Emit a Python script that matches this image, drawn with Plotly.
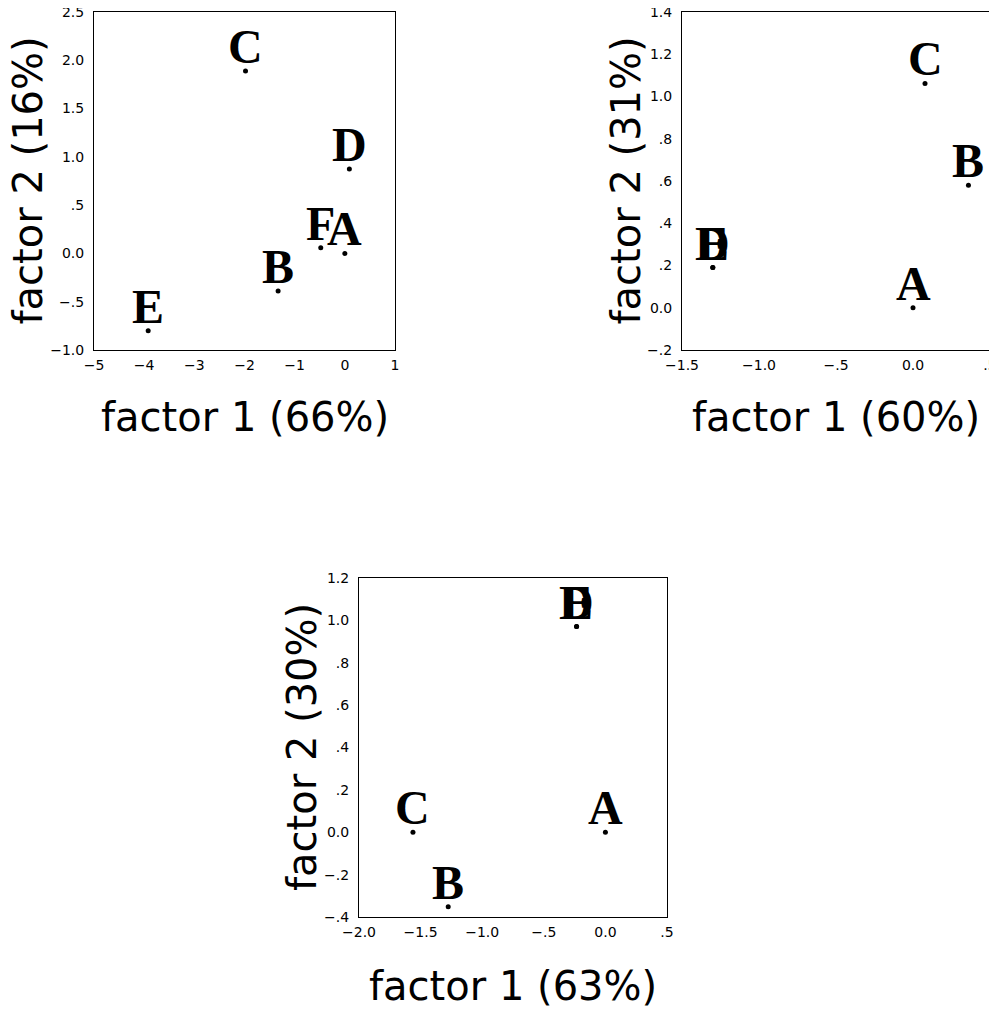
import plotly.graph_objects as go

# ---------------- data ----------------
# Panel 1
p1_labels = ["A", "B", "C", "D", "E", "F"]
p1_x = [0.0, -1.33, -1.98, 0.09, -3.92, -0.48]
p1_y = [0.0, -0.39, 1.89, 0.875, -0.80, 0.06]
p1_xtitle = "factor 1 (66%)"
p1_ytitle = "factor 2 (16%)"
p1_xticks = [-5, -4, -3, -2, -1, 0, 1]
p1_xticktext = ["\u22125", "\u22124", "\u22123", "\u22122", "\u22121", "0", "1"]
p1_yticks = [2.5, 2.0, 1.5, 1.0, 0.5, 0.0, -0.5, -1.0]
p1_yticktext = ["2.5", "2.0", "1.5", "1.0", ".5", "0.0", "\u2212.5", "\u22121.0"]

# Panel 2
p2_labels = ["A", "B", "C", "D", "E"]
p2_x = [0.0, 0.36, 0.078, -1.30, -1.30]
p2_y = [0.0, 0.58, 1.062, 0.19, 0.19]
p2_xtitle = "factor 1 (60%)"
p2_ytitle = "factor 2 (31%)"
p2_xticks = [-1.5, -1.0, -0.5, 0.0, 0.5]
p2_xticktext = ["\u22121.5", "\u22121.0", "\u2212.5", "0.0", ".5"]
p2_yticks = [1.4, 1.2, 1.0, 0.8, 0.6, 0.4, 0.2, 0.0, -0.2]
p2_yticktext = ["1.4", "1.2", "1.0", ".8", ".6", ".4", ".2", "0.0", "\u2212.2"]

# Panel 3
p3_labels = ["A", "B", "C", "D", "E"]
p3_x = [0.0, -1.276, -1.562, -0.234, -0.234]
p3_y = [0.0, -0.352, 0.0, 0.971, 0.971]
p3_xtitle = "factor 1 (63%)"
p3_ytitle = "factor 2 (30%)"
p3_xticks = [-2.0, -1.5, -1.0, -0.5, 0.0, 0.5]
p3_xticktext = ["\u22122.0", "\u22121.5", "\u22121.0", "\u2212.5", "0.0", ".5"]
p3_yticks = [1.2, 1.0, 0.8, 0.6, 0.4, 0.2, 0.0, -0.2, -0.4]
p3_yticktext = ["1.2", "1.0", ".8", ".6", ".4", ".2", "0.0", "\u2212.2", "\u2212.4"]

# ---------------- layout helpers ----------------
PAGE_OFF = 8          # browser body margin
W, H = 997 - PAGE_OFF, 1011 - PAGE_OFF


def px(a):
    return (a - PAGE_OFF) / W


def py(b):
    return 1 - (b - PAGE_OFF) / H


panels = [
    dict(lab=p1_labels, x=p1_x, y=p1_y, xt=p1_xtitle, yt=p1_ytitle,
         xv=p1_xticks, xtt=p1_xticktext, yv=p1_yticks, ytt=p1_yticktext,
         xr=[-5, 1], yr=[-1.0, 2.5], box=(94, 395, 12, 350),
         xt_pos=(245, 417), yt_pos=(27.5, 181)),
    dict(lab=p2_labels, x=p2_x, y=p2_y, xt=p2_xtitle, yt=p2_ytitle,
         xv=p2_xticks, xtt=p2_xticktext, yv=p2_yticks, ytt=p2_yticktext,
         xr=[-1.5, 0.5], yr=[-0.2, 1.4], box=(682, 990, 12, 350),
         xt_pos=(836, 417), yt_pos=(625.5, 181)),
    dict(lab=p3_labels, x=p3_x, y=p3_y, xt=p3_xtitle, yt=p3_ytitle,
         xv=p3_xticks, xtt=p3_xticktext, yv=p3_yticks, ytt=p3_yticktext,
         xr=[-2.0, 0.5], yr=[-0.4, 1.2], box=(359, 667, 578, 917),
         xt_pos=(513, 986), yt_pos=(301.5, 747.5)),
]

fig = go.Figure()
sans = "DejaVu Sans"
serif = "Liberation Serif"
annotations = []

for i, p in enumerate(panels, start=1):
    xa = "x" if i == 1 else f"x{i}"
    ya = "y" if i == 1 else f"y{i}"
    left, right, top, bottom = p["box"]
    fig.add_trace(go.Scatter(
        x=p["x"], y=p["y"], mode="markers",
        marker=dict(color="black", size=5),
        xaxis=xa, yaxis=ya, showlegend=False, cliponaxis=False,
    ))
    for lab, xv, yv in zip(p["lab"], p["x"], p["y"]):
        annotations.append(dict(
            x=xv, y=yv, xref=xa, yref=ya, text=f"<b>{lab}</b>", showarrow=False,
            xanchor="center", yanchor="bottom", yshift=-4,
            font=dict(family=serif, size=48, color="black"),
        ))
    # axis titles
    annotations.append(dict(
        x=px(p["xt_pos"][0]), y=py(p["xt_pos"][1]), xref="paper", yref="paper",
        text=p["xt"], showarrow=False, xanchor="center", yanchor="middle",
        font=dict(family=sans, size=40, color="black"),
    ))
    annotations.append(dict(
        x=px(p["yt_pos"][0]), y=py(p["yt_pos"][1]), xref="paper", yref="paper",
        text=p["yt"], showarrow=False, xanchor="center", yanchor="middle",
        textangle=-90, font=dict(family=sans, size=40, color="black"),
    ))
    axis_common = dict(
        showgrid=False, zeroline=False, showline=True, linecolor="black",
        linewidth=1, mirror=True, ticks="", automargin=False,
        ticklabeloverflow="allow",
        tickfont=dict(family=sans, size=14, color="black"),
    )
    fig.layout[f"xaxis{'' if i == 1 else i}"] = dict(
        axis_common, domain=[px(left), px(right)], range=p["xr"], tickmode="array",
        tickvals=p["xv"], ticktext=p["xtt"], anchor=ya, ticklabelstandoff=2,
    )
    fig.layout[f"yaxis{'' if i == 1 else i}"] = dict(
        axis_common, domain=[py(bottom), py(top)], range=p["yr"], tickmode="array",
        tickvals=p["yv"], ticktext=p["ytt"], anchor=xa, ticklabelstandoff=6,
    )

fig.update_layout(
    width=W, height=H, margin=dict(l=0, r=0, t=0, b=0, autoexpand=False),
    plot_bgcolor="white", paper_bgcolor="white", annotations=annotations,
)

# let tick labels that sit on the frame edge show fully, as in the reference
post = ("document.querySelectorAll('.main-svg').forEach(function(s){"
        "s.style.overflow='visible';});")
fig.write_html("out.html", post_script=post)
